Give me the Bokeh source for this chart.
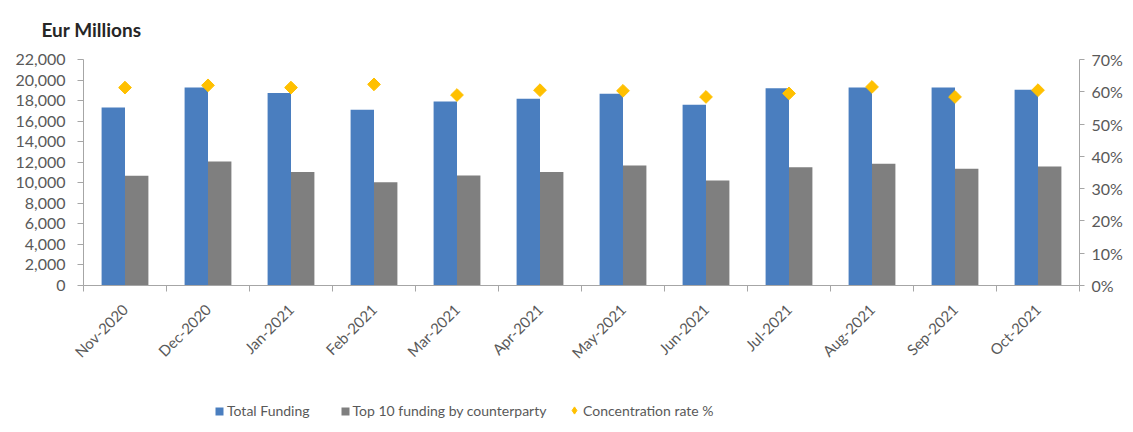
import math
from bokeh.plotting import figure
from bokeh.layouts import column
from bokeh.models import (Range1d, LinearAxis, FixedTicker, NumeralTickFormatter,
                          Legend, LegendItem, ColumnDataSource)
from bokeh.transform import dodge
from bokeh.embed import file_html
from bokeh.resources import INLINE

months = ["Nov-2020", "Dec-2020", "Jan-2021", "Feb-2021", "Mar-2021", "Apr-2021",
          "May-2021", "Jun-2021", "Jul-2021", "Aug-2021", "Sep-2021", "Oct-2021"]
total_funding = [17330, 19270, 18730, 17100, 17910, 18170, 18660, 17590, 19210, 19270, 19270, 19050]
top10_funding = [10690, 12080, 11050, 10040, 10720, 11050, 11690, 10230, 11500, 11860, 11370, 11590]
concentration = [0.613, 0.620, 0.613, 0.623, 0.590, 0.605, 0.603, 0.584, 0.595, 0.615, 0.584, 0.605]
series_names = ["Total Funding", "Top 10 funding by counterparty", "Concentration rate %"]
left_ticks = list(range(0, 22001, 2000))
right_ticks = [0.0, 0.1, 0.2, 0.3, 0.4, 0.5, 0.6, 0.7]

BLUE = "#4A7EBF"
GRAY = "#7F7F7F"
GOLD = "#FFC000"
TXT = "#595959"
AX = "#A6A6A6"
FONT = "Lato"
W = 1125

centers = [i + 0.5 for i in range(len(months))]
src = ColumnDataSource(dict(xc=centers, total=total_funding, top10=top10_funding,
                            conc=concentration, month=months))

p = figure(width=W, height=377, x_range=Range1d(0, len(months)),
           y_range=Range1d(0, 22000), output_backend="svg", toolbar_location=None,
           min_border_left=83, min_border_right=44, min_border_top=59,
           min_border_bottom=92)
p.extra_y_ranges = {"pct": Range1d(0, 0.7)}
p.outline_line_color = None
p.xgrid.grid_line_color = None
p.ygrid.grid_line_color = None
p.background_fill_color = "white"
p.border_fill_color = "white"

p.title.text = "Eur Millions"
p.title.align = "left"
p.title.vertical_align = "top"
p.title.offset = -42
p.title.standoff = 34
p.title.text_font = FONT
p.title.text_font_style = "bold"
p.title.text_font_size = "19px"
p.title.text_color = "#262626"

bw = 0.282
p.vbar(x=dodge("xc", -bw / 2), top="total", width=bw, source=src,
       fill_color=BLUE, line_color=None)
p.vbar(x=dodge("xc", bw / 2), top="top10", width=bw, source=src,
       fill_color=GRAY, line_color=None)
p.scatter(x="xc", y="conc", marker="square", angle=math.pi / 4, size=9,
          source=src, fill_color=GOLD, line_color=GOLD, y_range_name="pct")

# x axis
xa = p.xaxis[0]
xa.ticker = FixedTicker(ticks=centers, minor_ticks=list(range(len(months) + 1)))
xa.major_label_overrides = {c: m for c, m in zip(centers, months)}
xa.major_label_orientation = math.pi / 4
xa.major_tick_in = 0
xa.major_tick_out = 0
xa.minor_tick_in = 0
xa.minor_tick_out = 6
xa.minor_tick_line_color = AX
xa.axis_line_color = AX
xa.major_label_text_font = FONT
xa.major_label_text_font_size = "15px"
xa.major_label_text_color = TXT
xa.major_label_standoff = 15

# left axis
ya = p.yaxis[0]
ya.ticker = FixedTicker(ticks=left_ticks)
ya.formatter = NumeralTickFormatter(format="0,0")
ya.major_tick_in = 0
ya.major_tick_out = 6
ya.minor_tick_line_color = None
ya.axis_line_color = AX
ya.major_tick_line_color = AX
ya.major_label_text_font = FONT
ya.major_label_text_font_size = "16px"
ya.major_label_text_color = TXT
ya.major_label_standoff = 12

# right axis
ra = LinearAxis(y_range_name="pct", ticker=FixedTicker(ticks=right_ticks),
                formatter=NumeralTickFormatter(format="0%"))
ra.major_tick_in = 0
ra.major_tick_out = 5
ra.minor_tick_line_color = None
ra.axis_line_color = AX
ra.major_tick_line_color = AX
ra.major_label_text_font = FONT
ra.major_label_text_font_size = "16px"
ra.major_label_text_color = TXT
ra.major_label_standoff = 7
p.add_layout(ra, "right")

# legend strip below the chart: hidden copies of the series supply the keys
lg = figure(width=W, height=46, output_backend="svg", toolbar_location=None,
            x_axis_location=None, y_axis_location=None, min_border=0,
            x_range=Range1d(0, len(months)), y_range=Range1d(0, 22000))
lg.extra_y_ranges = {"pct": Range1d(0, 0.7)}
lg.outline_line_color = None
lg.xgrid.grid_line_color = None
lg.ygrid.grid_line_color = None
k1 = lg.vbar(x=dodge("xc", -bw / 2), top="total", width=bw, source=src,
             fill_color=BLUE, line_color=None, visible=False)
k2 = lg.vbar(x=dodge("xc", bw / 2), top="top10", width=bw, source=src,
             fill_color=GRAY, line_color=None, visible=False)
k3 = lg.scatter(x="xc", y="conc", marker="diamond", size=9, source=src,
                fill_color=GOLD, line_color=GOLD, y_range_name="pct", visible=False)

common = dict(orientation="horizontal", border_line_color=None, background_fill_alpha=0,
              padding=0, margin=0, label_text_font=FONT, label_text_font_size="14px",
              label_text_color=TXT, inactive_fill_alpha=0)
leg_bars = Legend(items=[LegendItem(label=series_names[0], renderers=[k1]),
                         LegendItem(label=series_names[1], renderers=[k2])],
                  location=(131, 4), spacing=30, glyph_width=10, glyph_height=10,
                  label_standoff=3, **common)
leg_rate = Legend(items=[LegendItem(label=series_names[2], renderers=[k3])],
                  location=(482, 4), glyph_width=18, glyph_height=18,
                  label_standoff=0, **common)
lg.add_layout(leg_bars, "center")
lg.add_layout(leg_rate, "center")

layout = column(p, lg, spacing=0)
open("out.html", "w").write(file_html(layout, INLINE))
